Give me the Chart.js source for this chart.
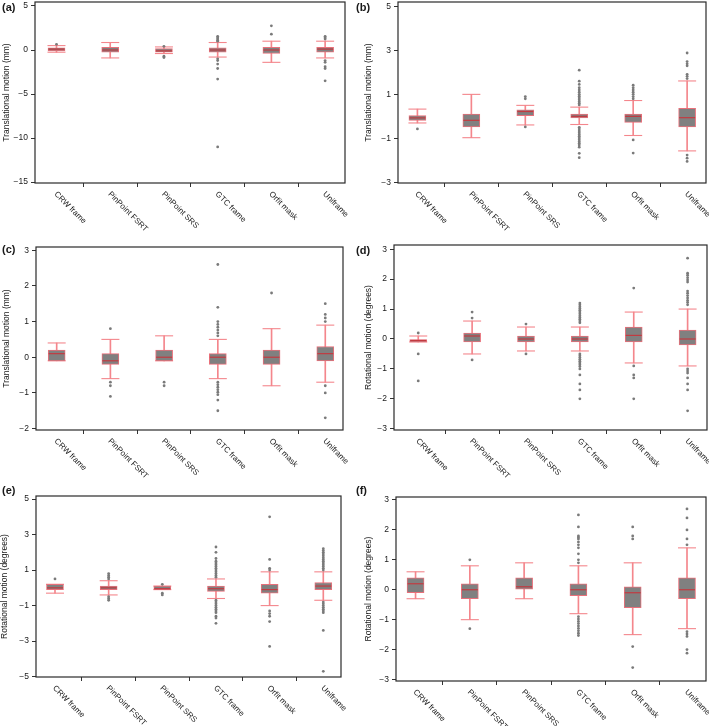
<!DOCTYPE html>
<html>
<head>
<meta charset="utf-8">
<script src="https://cdn.jsdelivr.net/npm/chart.js@4.4.1/dist/chart.umd.min.js"></script>
<style>
  body { margin: 0; background: #fff; width: 709px; height: 726px; position: relative; overflow: hidden; }
  canvas { position: absolute; }
</style>
</head>
<body>
<canvas id="pa"></canvas>
<canvas id="pb"></canvas>
<canvas id="pc"></canvas>
<canvas id="pd"></canvas>
<canvas id="pe"></canvas>
<canvas id="pf"></canvas>
<script>
const categories = ['CRW frame', 'PinPoint FSRT', 'PinPoint SRS', 'GTC frame', 'Orfit mask', 'Uniframe'];

// (a) translational, mm
const aQ1  = [-0.1, -0.25, -0.25, -0.25, -0.4, -0.25];
const aMed = [0.1, 0, -0.1, 0, 0, 0.1];
const aQ3  = [0.25, 0.3, 0.15, 0.25, 0.3, 0.3];
const aLo  = [-0.25, -0.9, -0.4, -0.8, -1.4, -0.9];
const aHi  = [0.5, 0.85, 0.35, 0.85, 1.0, 1.0];
const aOut = [[0.65], [], [0.42, -0.7, -0.85],
  [1.55, 1.4, 1.25, 1.1, 1.0, -1.0, -1.2, -1.6, -2.1, -3.3, -11.0],
  [2.75, 1.8],
  [1.55, 1.4, 1.25, -1.2, -1.4, -1.9, -2.1, -3.5]];
const aTicks = [-15, -10, -5, 0, 5];

// (b) translational, mm
const bQ1  = [-0.18, -0.48, 0.03, -0.07, -0.27, -0.48];
const bMed = [-0.07, -0.18, 0.22, 0, 0, -0.06];
const bQ3  = [0.03, 0.1, 0.3, 0.1, 0.1, 0.36];
const bLo  = [-0.3, -0.97, -0.39, -0.37, -0.87, -1.57];
const bHi  = [0.33, 1.0, 0.5, 0.42, 0.72, 1.61];
const bOut = [[-0.57], [], [0.9, 0.8, -0.48],
  [2.1, 1.6, 1.45, 1.3, 1.2, 1.1, 1.0, 0.92, 0.84, 0.76, 0.68, 0.6, 0.52,
   -0.5, -0.58, -0.66, -0.74, -0.82, -0.9, -0.98, -1.06, -1.14, -1.22, -1.3, -1.4, -1.68, -1.88],
  [1.42, 1.3, 1.2, 1.1, 1.0, 0.9, 0.8, -1.07, -1.67],
  [2.88, 2.49, 2.39, 2.3, 1.91, 1.82, 1.72, -1.76, -1.9, -2.05]];
const bTicks = [-3, -1, 1, 3, 5];

// (c) translational, mm
const cQ1  = [-0.1, -0.2, -0.1, -0.2, -0.2, -0.1];
const cMed = [0.1, -0.1, 0, 0, 0, 0.1];
const cQ3  = [0.2, 0.1, 0.2, 0.1, 0.2, 0.3];
const cLo  = [-0.1, -0.6, -0.1, -0.6, -0.8, -0.7];
const cHi  = [0.4, 0.5, 0.6, 0.5, 0.8, 0.9];
const cOut = [[], [0.8, -0.7, -0.8, -1.1], [-0.7, -0.8],
  [2.6, 1.4, 1.0, 0.92, 0.84, 0.76, 0.68, 0.6, -0.7, -0.77, -0.84, -0.91, -0.98, -1.05, -1.2, -1.5],
  [1.8],
  [1.5, 1.2, 1.1, 1.0, -0.8, -1.0, -1.7]];
const cTicks = [-2, -1, 0, 1, 2, 3];

// (d) rotational, degrees
const dQ1  = [-0.1, -0.1, -0.1, -0.1, -0.1, -0.2];
const dMed = [-0.05, 0.1, 0, 0, 0.12, 0];
const dQ3  = [0.0, 0.2, 0.1, 0.1, 0.4, 0.3];
const dLo  = [-0.1, -0.5, -0.4, -0.4, -0.8, -0.9];
const dHi  = [0.1, 0.6, 0.4, 0.4, 0.9, 1.0];
const dOut = [[0.2, -0.5, -1.4], [0.9, 0.7, -0.7], [0.5, -0.5],
  [1.2, 1.14, 1.08, 1.02, 0.96, 0.9, 0.84, 0.78, 0.72, 0.66, 0.6, 0.54,
   -0.5, -0.56, -0.62, -0.68, -0.74, -0.8, -0.86, -0.92, -1.0, -1.2, -1.5, -1.7, -2.0],
  [1.7, -0.9, -1.2, -1.3, -2.0],
  [2.7, 2.2, 2.13, 2.05, 1.97, 1.9, 1.6, 1.53, 1.45, 1.37, 1.29, 1.22, 1.14,
   -1.0, -1.07, -1.14, -1.3, -1.5, -1.7, -2.4]];
const dTicks = [-3, -2, -1, 0, 1, 2, 3];

// (e) rotational, degrees
const eQ1  = [-0.1, -0.1, -0.1, -0.2, -0.3, -0.1];
const eMed = [0, 0, -0.05, -0.05, -0.1, 0.1];
const eQ3  = [0.2, 0.1, 0.1, 0.1, 0.2, 0.3];
const eLo  = [-0.3, -0.4, -0.1, -0.6, -1.0, -0.7];
const eHi  = [0.2, 0.4, 0.1, 0.5, 0.9, 0.9];
const eOut = [[0.5], [0.8, 0.7, 0.6, 0.5, -0.5, -0.6, -0.7], [0.2, -0.3, -0.4],
  [2.3, 2.0, 1.65, 1.5, 1.4, 1.3, 1.2, 1.1, 1.0, 0.9, 0.8, 0.7, 0.6,
   -0.7, -0.8, -0.9, -1.0, -1.1, -1.2, -1.3, -1.4, -1.6, -1.7, -2.0],
  [4.0, 1.6, 1.1, 1.0, -1.3, -1.45, -1.6, -1.9, -3.3],
  [2.2, 2.1, 2.0, 1.9, 1.8, 1.7, 1.6, 1.5, 1.4, 1.3, 1.2, 1.1, 1.0,
   -0.8, -0.9, -1.0, -1.1, -1.2, -1.3, -1.4, -2.4, -4.7]];
const eTicks = [-5, -3, -1, 1, 3, 5];

// (f) rotational, degrees
const fQ1  = [-0.1, -0.3, 0, -0.2, -0.6, -0.3];
const fMed = [0.2, 0, 0.1, 0, -0.1, 0];
const fQ3  = [0.4, 0.2, 0.4, 0.2, 0.1, 0.4];
const fLo  = [-0.3, -1.0, -0.3, -0.8, -1.5, -1.3];
const fHi  = [0.6, 0.8, 0.9, 0.8, 0.9, 1.4];
const fOut = [[], [1.0, -1.3], [],
  [2.5, 2.1, 1.8, 1.75, 1.7, 1.6, 1.5, 1.4, 1.2, 1.0, 0.9,
   -0.9, -0.98, -1.06, -1.13, -1.21, -1.29, -1.37, -1.45, -1.53],
  [2.1, 1.8, 1.7, -1.9, -2.6],
  [2.7, 2.4, 2.0, 1.7, 1.5, -1.4, -1.48, -1.56, -2.0, -2.12]];
const fTicks = [-3, -2, -1, 0, 1, 2, 3];

const transTitle = 'Translational motion (mm)';
const rotTitle = 'Rotational motion (degrees)';

const FONT = '"Liberation Sans", Arial, sans-serif';
const boxFill = '#808080';
const boxEdge = '#e8707a';
const whiskerColor = '#f4868c';
const medianColor = '#c23a40';
const pointColor = '#7a7a7a';
const ink = '#1a1a1a';

const panels = [
  { id: 'pa', tag: '(a)', title: transTitle, q1: aQ1, med: aMed, q3: aQ3, lo: aLo, hi: aHi, out: aOut, ticks: aTicks,
    yMin: -15.1, yMax: 5.45, xMin: 0.6, xMax: 6.37,
    cell: [0, 0, 354, 242], frame: [35, 2, 345, 183], titleX: 7, tagY: 2 },
  { id: 'pb', tag: '(b)', title: transTitle, q1: bQ1, med: bMed, q3: bQ3, lo: bLo, hi: bHi, out: bOut, ticks: bTicks,
    yMin: -3.03, yMax: 5.2, xMin: 0.64, xMax: 6.35,
    cell: [354, 0, 709, 242], frame: [398, 2, 706, 183], titleX: 15, tagY: 2 },
  { id: 'pc', tag: '(c)', title: transTitle, q1: cQ1, med: cMed, q3: cQ3, lo: cLo, hi: cHi, out: cOut, ticks: cTicks,
    yMin: -2.04, yMax: 3.09, xMin: 0.615, xMax: 6.33,
    cell: [0, 242, 354, 484], frame: [36, 247, 343, 430], titleX: 7, tagY: 2 },
  { id: 'pd', tag: '(d)', title: rotTitle, q1: dQ1, med: dMed, q3: dQ3, lo: dLo, hi: dHi, out: dOut, ticks: dTicks,
    yMin: -3.04, yMax: 3.14, xMin: 0.55, xMax: 6.36,
    cell: [354, 242, 709, 484], frame: [394, 245, 707, 430], titleX: 15, tagY: 3 },
  { id: 'pe', tag: '(e)', title: rotTitle, q1: eQ1, med: eMed, q3: eQ3, lo: eLo, hi: eHi, out: eOut, ticks: eTicks,
    yMin: -5.02, yMax: 5.17, xMin: 0.646, xMax: 6.33,
    cell: [0, 484, 354, 726], frame: [36, 496, 341, 677], titleX: 5, tagY: 1 },
  { id: 'pf', tag: '(f)', title: rotTitle, q1: fQ1, med: fMed, q3: fQ3, lo: fLo, hi: fHi, out: fOut, ticks: fTicks,
    yMin: -3.05, yMax: 3.1, xMin: 0.64, xMax: 6.35,
    cell: [354, 484, 709, 726], frame: [396, 497, 706, 681], titleX: 15, tagY: 1 }
];

function fmt(v) {
  return v < 0 ? '\u2212' + Math.abs(v) : String(v);
}

// frame, tick labels, axis title and panel tag
const decor = {
  id: 'decor',
  afterDraw(chart, args, opts) {
    const { ctx, chartArea: a, scales: { x, y } } = chart;
    ctx.save();
    ctx.strokeStyle = '#2a2a2a';
    ctx.lineWidth = 1.2;
    ctx.strokeRect(a.left, a.top, a.right - a.left, a.bottom - a.top);

    ctx.fillStyle = ink;
    ctx.font = '8.5px ' + FONT;
    ctx.textAlign = 'right';
    ctx.textBaseline = 'middle';
    opts.ticks.forEach(v => {
      ctx.fillText(fmt(v), a.left - 7, y.getPixelForValue(v));
    });

    ctx.font = '8px ' + FONT;
    ctx.textAlign = 'left';
    categories.forEach((c, i) => {
      const px = x.getPixelForValue(i + 1);
      ctx.save();
      ctx.translate(px - 1, a.bottom + 10);
      ctx.rotate(Math.PI / 4);
      ctx.fillText(c, 0, 0);
      ctx.restore();
    });

    ctx.save();
    ctx.font = '8.5px ' + FONT;
    ctx.translate(opts.titleX, (a.top + a.bottom) / 2);
    ctx.rotate(-Math.PI / 2);
    ctx.textAlign = 'center';
    ctx.fillText(opts.title, 0, 0);
    ctx.restore();

    ctx.font = 'bold 11px ' + FONT;
    ctx.textAlign = 'left';
    ctx.textBaseline = 'top';
    ctx.fillText(opts.tag, 2, opts.tagY);
    ctx.restore();
  }
};

function makeDatasets(p) {
  const xs = categories.map((c, i) => i + 1);
  const outliers = [];
  p.out.forEach((arr, i) => arr.forEach(v => outliers.push({ x: i + 1, y: v })));
  return [
    { type: 'bar', data: xs.map((x, i) => ({ x, y: [p.lo[i], p.hi[i]] })),
      backgroundColor: whiskerColor, borderWidth: 0, barThickness: 1, grouped: false, order: 5 },
    { type: 'scatter', data: xs.flatMap((x, i) => [{ x, y: p.lo[i] }, { x, y: p.hi[i] }]),
      pointStyle: 'line', pointRadius: 9, pointHoverRadius: 9, pointBorderColor: whiskerColor, pointBorderWidth: 1.1, order: 4 },
    { type: 'bar', data: xs.map((x, i) => ({ x, y: [p.q1[i], p.q3[i]] })),
      backgroundColor: boxFill, borderColor: boxEdge, borderWidth: 1, borderSkipped: false,
      barThickness: 17, grouped: false, order: 3 },
    { type: 'scatter', data: xs.map((x, i) => ({ x, y: p.med[i] })),
      pointStyle: 'line', pointRadius: 8, pointHoverRadius: 8, pointBorderColor: medianColor, pointBorderWidth: 1.2, order: 2 },
    { type: 'scatter', data: outliers,
      pointStyle: 'circle', pointRadius: 1.4, pointHoverRadius: 1.4, pointBackgroundColor: pointColor, pointBorderWidth: 0, order: 1 }
  ];
}

panels.forEach(p => {
  const [cl, ct, cr, cb] = p.cell;
  const [fl, ft, fr, fb] = p.frame;
  const canvas = document.getElementById(p.id);
  canvas.width = cr - cl;
  canvas.height = cb - ct;
  canvas.style.left = cl + 'px';
  canvas.style.top = ct + 'px';

  new Chart(canvas, {
    type: 'bar',
    data: { datasets: makeDatasets(p) },
    options: {
      responsive: false,
      animation: false,
      events: [],
      devicePixelRatio: 1,
      layout: { autoPadding: false, padding: { top: ft - ct, right: cr - fr, left: 0, bottom: 0 } },
      plugins: {
        legend: { display: false },
        tooltip: { enabled: false },
        decor: { title: p.title, tag: p.tag, titleX: p.titleX, tagY: p.tagY, ticks: p.ticks }
      },
      scales: {
        x: {
          type: 'linear', min: p.xMin, max: p.xMax, offset: false,
          border: { display: false },
          grid: { drawOnChartArea: false, drawTicks: true, tickLength: 4, color: '#333' },
          ticks: { display: false },
          afterBuildTicks: s => { s.ticks = categories.map((c, i) => ({ value: i + 1 })); },
          afterFit: s => { s.height = cb - fb; }
        },
        y: {
          type: 'linear', min: p.yMin, max: p.yMax,
          border: { display: false },
          grid: { drawOnChartArea: false, drawTicks: true, tickLength: 4, color: '#333' },
          ticks: { display: false },
          afterBuildTicks: s => { s.ticks = p.ticks.map(v => ({ value: v })); },
          afterFit: s => { s.width = fl - cl; }
        }
      }
    },
    plugins: [decor]
  });
});
</script>
</body>
</html>
